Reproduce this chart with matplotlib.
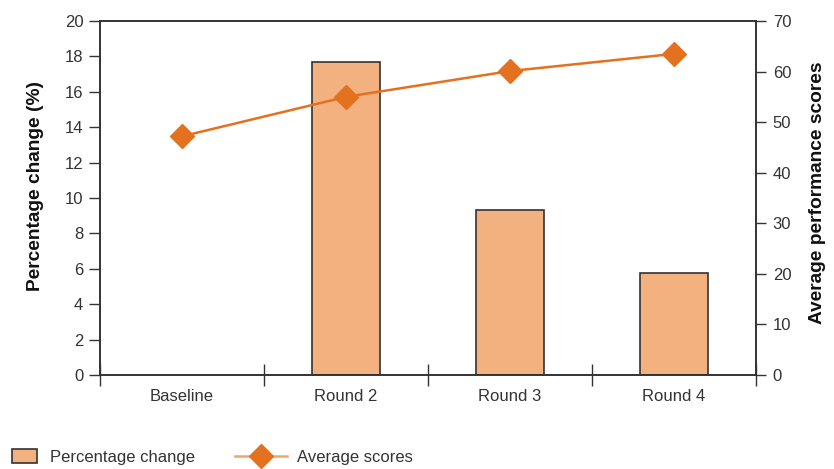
import matplotlib
matplotlib.use("Agg")
import matplotlib.pyplot as plt
import numpy as np
from matplotlib.lines import Line2D
from matplotlib.patches import Patch

plt.rcParams['font.family'] = ['Liberation Sans Narrow', 'Liberation Sans', 'DejaVu Sans']

categories = ["Baseline", "Round 2", "Round 3", "Round 4"]
pct_change = [np.nan, 17.7, 9.35, 5.75]
avg_scores = [47.2, 55.0, 60.1, 63.5]

BAR_COLOR = '#F2B17F'
LINE_COLOR = '#E3711F'
AXIS_COLOR = '#333333'
W, H = 834, 469

fig = plt.figure(figsize=(W / 100, H / 100), dpi=100)
ax = fig.add_axes([100 / W, 1 - 375 / H, 656 / W, 354 / H])
x = np.arange(len(categories))

ax.bar(x, pct_change, width=0.41, color=BAR_COLOR, edgecolor=AXIS_COLOR, linewidth=1.2, zorder=2)
ax.set_xlim(-0.5, len(categories) - 0.5)
ax.set_ylim(0, 20)
ax.set_yticks(np.arange(0, 21, 2))
ax.set_xticks(x)
ax.set_xticklabels(categories)
ax.set_xticks(np.arange(-0.5, len(categories), 1), minor=True)
ax.tick_params(axis='x', which='major', length=0, pad=10, labelsize=12, labelcolor=AXIS_COLOR)
ax.tick_params(axis='x', which='minor', direction='inout', length=16, width=1, color=AXIS_COLOR)
ax.tick_params(axis='y', length=8, width=1, color=AXIS_COLOR, labelsize=12, labelcolor=AXIS_COLOR, pad=4)

for sp in ax.spines.values():
    sp.set_color(AXIS_COLOR)
    sp.set_linewidth(1.2)

# average scores on a secondary axis
ax2 = ax.twinx()
ax2.plot(x, avg_scores, color=LINE_COLOR, linewidth=1.8, marker='D', markersize=12, zorder=3)
ax2.set_ylim(0, 70)
ax2.set_yticks(np.arange(0, 71, 10))
ax2.tick_params(axis='y', length=7, width=1, color=AXIS_COLOR, labelsize=12, labelcolor=AXIS_COLOR, pad=5)
for sp in ax2.spines.values():
    sp.set_color(AXIS_COLOR)
    sp.set_linewidth(1.2)

fig.text(36 / W, 1 - 186 / H, "Percentage change (%)", rotation=90, ha='center', va='center',
         fontsize=13.8, fontweight='bold', color='#111111')
fig.text(817 / W, 1 - 193 / H, "Average performance scores", rotation=90, ha='center', va='center',
         fontsize=13.8, fontweight='bold', color='#111111')

# two legend entries with different handle widths
bar_handle = Patch(facecolor=BAR_COLOR, edgecolor=AXIS_COLOR, linewidth=1.2, label="Percentage change")
line_handle = Line2D([0], [0], color='#F0A56E', linewidth=1.8, marker='D', markersize=12,
                     markerfacecolor=LINE_COLOR, markeredgecolor=LINE_COLOR, label="Average scores")
fig.legend(handles=[bar_handle], loc='center left', bbox_to_anchor=(12 / W, 1 - 457 / H),
           frameon=False, fontsize=12, handlelength=1.5, handleheight=0.9, handletextpad=0.75,
           borderpad=0, borderaxespad=0, labelcolor=AXIS_COLOR)
fig.legend(handles=[line_handle], loc='center left', bbox_to_anchor=(235 / W, 1 - 457 / H),
           frameon=False, fontsize=12, handlelength=3.1, handletextpad=0.6,
           borderpad=0, borderaxespad=0, labelcolor=AXIS_COLOR)

fig.savefig("out.png", dpi=100)
